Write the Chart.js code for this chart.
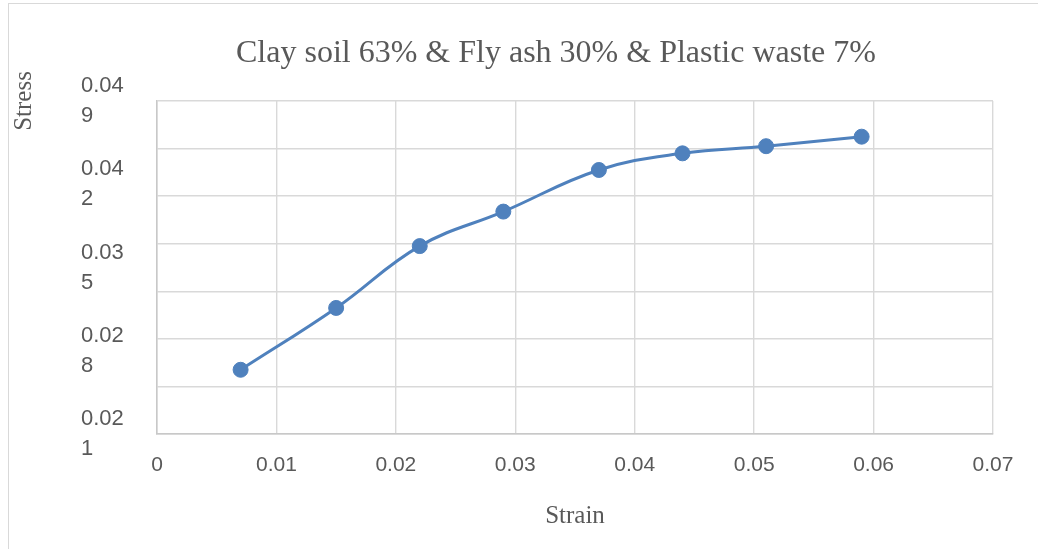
<!DOCTYPE html>
<html>
<head>
<meta charset="utf-8">
<script src="https://cdn.jsdelivr.net/npm/chart.js@4/dist/chart.umd.min.js"></script>
<style>
    html, body { margin: 0; padding: 0; background: #fff; overflow: hidden; }
    #frame {
        position: absolute; left: 8px; top: 3px;
        width: 1100px; height: 600px;
        border: 1.5px solid #d9d9d9;
    }
    #c { position: absolute; left: 0; top: 0; }
</style>
</head>
<body>
<div id="frame"></div>
<canvas id="c" width="1038" height="549"></canvas>
<script>
// data
const strain = [0.007, 0.015, 0.022, 0.029, 0.037, 0.044, 0.051, 0.059];
const stress = [0.0264, 0.0316, 0.0368, 0.0397, 0.0432, 0.0446, 0.0452, 0.046];

const xTicks = [0, 0.01, 0.02, 0.03, 0.04, 0.05, 0.06, 0.07];
const xTickLabels = ["0", "0.01", "0.02", "0.03", "0.04", "0.05", "0.06", "0.07"];
const yGridTicks = [0.021, 0.025, 0.029, 0.033, 0.037, 0.041, 0.045, 0.049];
const yLabelTicks = [0.021, 0.028, 0.035, 0.042, 0.049];
const yTickLabels = ["0.021", "0.028", "0.035", "0.042", "0.049"];

const chartTitle = "Clay soil 63% & Fly ash 30% & Plastic waste 7%";

const textGrey = "#595959";
const gridGrey = "#d9d9d9";
const blue = "#4f81bd";
const serif = "'Liberation Serif', 'Times New Roman', serif";

// title and "Stress" are not centred on the plot in the original, draw them by hand
const titles = {
    id: "titles",
    afterDraw(chart) {
        const ctx = chart.ctx;
        ctx.save();
        ctx.fillStyle = textGrey;
        ctx.textAlign = "center";
        ctx.font = "32px " + serif;
        ctx.textBaseline = "alphabetic";
        ctx.fillText(chartTitle, 556, 62);

        ctx.translate(24, 101);
        ctx.rotate(-Math.PI / 2);
        ctx.font = "25px " + serif;
        ctx.textBaseline = "middle";
        ctx.fillText("Stress", 0, 0);
        ctx.restore();
    },
};

const sameVal = (a, b) => Math.abs(a - b) < 1e-9;

new Chart(document.getElementById("c"), {
    type: "line",
    data: {
        datasets: [
            {
                label: "Stress",
                data: strain.map((s, i) => ({ x: s, y: stress[i] })),
                borderColor: blue,
                backgroundColor: blue,
                borderWidth: 3,
                pointRadius: 7.5,
                pointBorderWidth: 1,
                pointBackgroundColor: blue,
                pointBorderColor: blue,
                tension: 0.4,
                fill: false,
            },
        ],
    },
    options: {
        responsive: false,
        animation: false,
        devicePixelRatio: 1,
        layout: { padding: { left: 81, right: 45, top: 101, bottom: 0 } },
        plugins: {
            legend: { display: false },
            tooltip: { enabled: false },
            title: { display: false },
        },
        scales: {
            x: {
                type: "linear",
                min: 0,
                max: 0.07,
                afterBuildTicks: (scale) => {
                    scale.ticks = xTicks.map((v) => ({ value: v }));
                },
                afterFit: (scale) => {
                    scale.height = 115;
                },
                ticks: {
                    autoSkip: false,
                    maxRotation: 0,
                    padding: 19,
                    color: textGrey,
                    font: { family: "'Liberation Sans', Arial, sans-serif", size: 21 },
                    callback: (v, i) => xTickLabels[i],
                },
                grid: { color: gridGrey, lineWidth: 1.4, drawTicks: false },
                border: { color: "#c8c8c8", width: 1.5 },
                title: {
                    display: true,
                    text: "Strain",
                    color: textGrey,
                    font: { family: serif, size: 25 },
                    padding: { top: 0, bottom: 18 },
                },
            },
            y: {
                type: "linear",
                min: 0.021,
                max: 0.049,
                afterBuildTicks: (scale) => {
                    const all = yGridTicks.concat(
                        yLabelTicks.filter((v) => !yGridTicks.some((g) => sameVal(g, v)))
                    );
                    all.sort((a, b) => a - b);
                    scale.ticks = all.map((v) => ({ value: v }));
                },
                afterFit: (scale) => {
                    scale.width = 76;
                },
                ticks: {
                    autoSkip: false,
                    crossAlign: "far",
                    padding: 10,
                    color: textGrey,
                    font: { family: "'Liberation Sans', Arial, sans-serif", size: 22, lineHeight: 1.36 },
                    callback: (v) => {
                        const k = yLabelTicks.findIndex((t) => sameVal(t, v));
                        if (k < 0) return "";
                        const s = yTickLabels[k];
                        return [s.slice(0, 4), s.slice(4)];
                    },
                },
                grid: {
                    drawTicks: false,
                    lineWidth: 1.4,
                    color: (ctx) =>
                        ctx.tick && yGridTicks.some((g) => sameVal(g, ctx.tick.value))
                            ? gridGrey
                            : "rgba(0,0,0,0)",
                },
                border: { color: "#c8c8c8", width: 1.5 },
            },
        },
    },
    plugins: [titles],
});
</script>
</body>
</html>
